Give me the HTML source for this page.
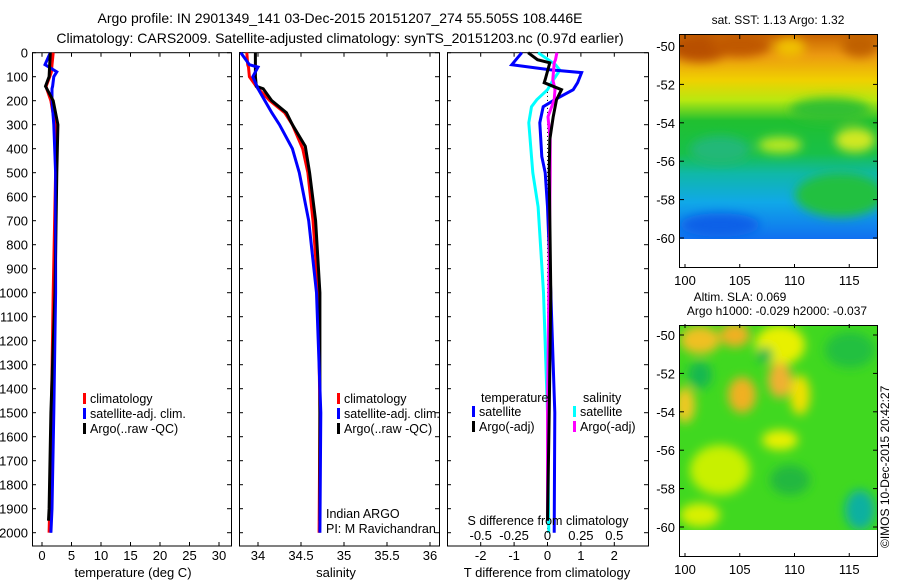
<!DOCTYPE html>
<html><head><meta charset="utf-8">
<style>
html,body{margin:0;padding:0;background:#fff;}
svg{display:block;font-family:"Liberation Sans",sans-serif;}
</style></head>
<body>
<svg id="fig" width="900" height="580" viewBox="0 0 900 580" xmlns="http://www.w3.org/2000/svg">
<defs>
 <linearGradient id="sstg" x1="0" y1="0" x2="0" y2="1">
  <stop offset="0" stop-color="#c86400"/>
  <stop offset="0.10" stop-color="#ec9a10"/>
  <stop offset="0.22" stop-color="#f0d000"/>
  <stop offset="0.32" stop-color="#b8e810"/>
  <stop offset="0.42" stop-color="#20c030"/>
  <stop offset="0.58" stop-color="#18c048"/>
  <stop offset="0.68" stop-color="#10b8a8"/>
  <stop offset="0.82" stop-color="#10a8e8"/>
  <stop offset="1" stop-color="#1070f0"/>
 </linearGradient>
 <filter id="blur4"><feGaussianBlur stdDeviation="5"/></filter>
 <clipPath id="clip1"><rect x="680" y="35" width="197" height="204"/></clipPath>
 <clipPath id="clip2"><rect x="680" y="326" width="197" height="204"/></clipPath>
</defs>
<text x="340" y="23" font-size="14" text-anchor="middle">Argo profile: IN 2901349_141 03-Dec-2015 20151207_274 55.505S 108.446E</text>
<text x="340" y="43" font-size="14" text-anchor="middle">Climatology: CARS2009. Satellite-adjusted climatology: synTS_20151203.nc (0.97d earlier)</text>
<g id="g1"></g>
<g id="g2"></g>
<g id="g3"></g>

<g>
 <text x="778" y="24" font-size="12" text-anchor="middle">sat. SST: 1.13 Argo: 1.32</text>
 <g clip-path="url(#clip1)">
  <rect x="680" y="35" width="197" height="204" fill="url(#sstg)"/>
  <g filter="url(#blur4)">
   <ellipse cx="700" cy="48" rx="30" ry="14" fill="#b85000"/>
   <ellipse cx="740" cy="45" rx="30" ry="12" fill="#c05800"/>
   <ellipse cx="790" cy="48" rx="15" ry="10" fill="#f0c000"/>
   <ellipse cx="860" cy="45" rx="18" ry="12" fill="#c06000"/>
   <ellipse cx="830" cy="110" rx="40" ry="12" fill="#30c030"/>
   <ellipse cx="720" cy="150" rx="30" ry="14" fill="#20b878"/>
   <ellipse cx="780" cy="145" rx="22" ry="8" fill="#b8e820"/>
   <ellipse cx="855" cy="140" rx="20" ry="12" fill="#d0e820"/>
   <ellipse cx="840" cy="195" rx="45" ry="22" fill="#20c040"/>
   <ellipse cx="720" cy="225" rx="40" ry="12" fill="#0860e8"/>
  </g>
 </g>
 <rect x="679.5" y="34.5" width="198" height="233" fill="none" stroke="#000"/>
 <g id="m1ax"></g>
</g>

<g>
 <text x="740" y="301" font-size="12" text-anchor="middle">Altim. SLA: 0.069</text>
 <text x="777" y="315" font-size="12" text-anchor="middle">Argo h1000: -0.029 h2000: -0.037</text>
 <g clip-path="url(#clip2)">
  <rect x="680" y="326" width="197" height="204" fill="#40d820"/>
  <g filter="url(#blur4)">
   <ellipse cx="700" cy="340" rx="20" ry="14" fill="#f0c020"/>
   <ellipse cx="735" cy="335" rx="15" ry="12" fill="#f0b020"/>
   <ellipse cx="780" cy="345" rx="25" ry="20" fill="#e8f000"/>
   <ellipse cx="742" cy="395" rx="14" ry="18" fill="#f0b020"/>
   <ellipse cx="685" cy="405" rx="10" ry="18" fill="#f0c820"/>
   <ellipse cx="780" cy="380" rx="12" ry="18" fill="#f0b030"/>
   <ellipse cx="800" cy="395" rx="10" ry="20" fill="#f0e000"/>
   <ellipse cx="700" cy="375" rx="12" ry="14" fill="#18b850"/>
   <ellipse cx="765" cy="355" rx="8" ry="8" fill="#18b850"/>
   <ellipse cx="850" cy="350" rx="25" ry="18" fill="#20c040"/>
   <ellipse cx="720" cy="470" rx="30" ry="25" fill="#c8f000"/>
   <ellipse cx="780" cy="440" rx="18" ry="10" fill="#e8f000"/>
   <ellipse cx="790" cy="480" rx="20" ry="15" fill="#20b840"/>
   <ellipse cx="860" cy="510" rx="15" ry="20" fill="#10b0a0"/>
   <ellipse cx="700" cy="515" rx="20" ry="12" fill="#d8f000"/>
  </g>
 </g>
 <rect x="679.5" y="325.5" width="198" height="231" fill="none" stroke="#000"/>
 <g id="m2ax"></g>
</g>
<text transform="translate(889,548) rotate(-90)" font-size="12">©IMOS 10-Dec-2015 20:42:27</text>
</svg>
<script>
// ---------- data ----------
const tDepths = [0,50,80,100,140,150,200,300,500,1000,1500,1900,2000];
const tClim   = [1.9,1.7,1.6,1.3,0.7,0.8,1.5,2.2,2.3,1.9,1.6,1.3,1.2];
const tSat    = [1.4,0.5,2.5,2.0,1.8,1.7,1.7,2.0,2.3,2.3,2.0,1.7,1.5];
const tArgoD  = [0,100,140,200,300,500,1000,1500,1900,1950];
const tArgo   = [1.4,1.2,0.6,1.9,2.7,2.5,2.2,1.5,1.2,1.1];

const sDepths = [0,50,60,100,150,200,250,300,400,500,700,1000,1500,2000];
const sClim   = [33.87,33.88,33.89,33.9,34.0,34.14,34.31,34.4,34.52,34.58,34.64,34.7,34.72,34.71];
const sSat    = [33.8,33.9,34.0,33.94,34.0,34.08,34.16,34.25,34.4,34.48,34.59,34.68,34.73,34.72];
const sArgoD  = [0,100,140,150,200,250,300,390,500,700,1000,1500,1950];
const sArgo   = [33.97,33.97,33.98,34.06,34.16,34.33,34.4,34.55,34.6,34.67,34.72,34.72,34.72];

const dDepths   = [0,50,71,83,125,154,196,225,292,433,500,642,1000,1500,2000];
const dTsat     = [-0.77,-1.07,0.07,1.02,0.9,0.77,0.22,-0.13,-0.23,-0.17,-0.07,0.0,0.1,0.22,0.2];
const dSsat     = [-0.07,0.06,0.09,0.08,0.03,0.0,-0.08,-0.12,-0.14,-0.12,-0.11,-0.07,-0.03,0.0,0.01];
const dArgoD    = [0,29,42,112,125,154,196,267,362,500,1000,1500,1950];
const dTargo    = [-0.58,-0.3,0.07,-0.07,-0.1,0.42,0.27,0.17,0.07,0.05,0.1,0.05,0.0];
const dSargo    = [0.07,0.06,0.05,0.04,0.045,0.056,0.05,0.004,0.02,0.02,0.01,0.0,0.0];

const depthTicks = [0,100,200,300,400,500,600,700,800,900,1000,1100,1200,1300,1400,1500,1600,1700,1800,1900,2000];
const tTicks = [0,5,10,15,20,25,30];
const sTicks = [34,34.5,35,35.5,36];
const sTickLabels = ['34','34.5','35','35.5','36'];
const dTTicks = [-2,-1,0,1,2];
const dSTicks = [-0.5,-0.25,0,0.25,0.5];
const dSTickLabels = ['-0.5','-0.25','0','0.25','0.5'];
const latTicks = [-50,-52,-54,-56,-58,-60];
const lonTicks = [100,105,110,115];

// ---------- helpers ----------
const NS='http://www.w3.org/2000/svg';
function mk(tag, parent, attrs){const e=document.createElementNS(NS,tag);for(const k in attrs)e.setAttribute(k,attrs[k]);parent.appendChild(e);return e;}
const top0=52.7, bot=546;
const yD = d => 52.7 + d*0.24;
const xT = v => 42 + v*5.9;
const xS = v => 258 + (v-34)*86;
const xDT = v => 547.5 + v*33.4;
const xDS = v => 547.5 + v*4*33.4;

function frame(g,x0,x1,name){
  const r=mk('rect',g,{x:x0+0.5,y:top0,width:x1-x0,height:bot-top0,fill:'none',stroke:'#000'});
  
  
}
function line(g,xs,ds,fx,color,name,w){
  const pts=xs.map((v,i)=>fx(v).toFixed(1)+','+yD(ds[i]).toFixed(1)).join(' ');
  const p=mk('polyline',g,{points:pts,fill:'none',stroke:color,'stroke-width':w||3,'stroke-linejoin':'miter'});
  
  
}
function depthAxis(g,x0,x1,labels){
  depthTicks.forEach(d=>{
    const y=yD(d);
    mk('line',g,{x1:x0,x2:x0+4,y1:y,y2:y,stroke:'#000'});
    mk('line',g,{x1:x1-4,x2:x1,y1:y,y2:y,stroke:'#000'});
    if(labels){const t=mk('text',g,{x:x0-4,y:y+5,'font-size':13,'text-anchor':'end'});t.textContent=d;
      
      }
  });
}
function xAxis(g,ticks,labels,fx,ly,tickTop){
  ticks.forEach((v,i)=>{
    const x=fx(v);
    mk('line',g,{x1:x,x2:x,y1:bot-4,y2:bot,stroke:'#000'});
    if(tickTop) mk('line',g,{x1:x,x2:x,y1:top0,y2:top0+4,stroke:'#000'});
    const t=mk('text',g,{x:x,y:ly,'font-size':13,'text-anchor':'middle'});t.textContent=labels[i];
    
    
  });
}
function txt(g,x,y,s,size,anchor,name){
  const t=mk('text',g,{x:x,y:y,'font-size':size,'text-anchor':anchor||'start'});t.textContent=s;
  
  
}
function legendEntry(g,x,y,color,label){
  const r=mk('rect',g,{x:x,y:y-10,width:3,height:11,fill:color});
  
  
  txt(g,x+7,y,label,12.5,'start','legend-entry');
}

// panel 1 temperature
const g1=document.getElementById('g1');
frame(g1,32,231,'temperature-plot-frame');
depthAxis(g1,32,231,true);
xAxis(g1,tTicks,tTicks.map(String),xT,560,true);
line(g1,tClim,tDepths,xT,'#f00','temperature-climatology-line');
line(g1,tSat,tDepths,xT,'#00f','temperature-satellite-line');
line(g1,tArgo,tArgoD,xT,'#000','temperature-argo-line');
line(g1,tSat.slice(7),tDepths.slice(7),xT,'#00f','temperature-satellite-line-deep',2);
txt(g1,133,577,'temperature (deg C)',13,'middle','temperature-axis-title');
legendEntry(g1,83,403,'#f00','climatology');
legendEntry(g1,83,418,'#00f','satellite-adj. clim.');
legendEntry(g1,83,433,'#000','Argo(..raw -QC)');

// panel 2 salinity
const g2=document.getElementById('g2');
frame(g2,239,439,'salinity-plot-frame');
depthAxis(g2,239,439,false);
xAxis(g2,sTicks,sTickLabels,xS,560,true);
line(g2,sClim,sDepths,xS,'#f00','salinity-climatology-line');
line(g2,sArgo,sArgoD,xS,'#000','salinity-argo-line');
line(g2,sSat,sDepths,xS,'#00f','salinity-satellite-line');
txt(g2,336,577,'salinity',13,'middle','salinity-axis-title');
legendEntry(g2,337,403,'#f00','climatology');
legendEntry(g2,337,418,'#00f','satellite-adj. clim.');
legendEntry(g2,337,433,'#000','Argo(..raw -QC)');
txt(g2,326,518,'Indian ARGO',12.5,'start','float-program-label');
txt(g2,326,533,'PI: M Ravichandran',12.5,'start','pi-label');

// panel 3 differences
const g3=document.getElementById('g3');
frame(g3,447,648,'difference-plot-frame');
depthAxis(g3,447,648,false);
xAxis(g3,dTTicks,dTTicks.map(String),xDT,560,false);
dSTicks.forEach((v,i)=>{const x=xDS(v);mk('line',g3,{x1:x,x2:x,y1:top0,y2:top0+4,stroke:'#000'});});
const z=mk('line',g3,{x1:xDT(0),x2:xDT(0),y1:yD(130),y2:yD(2000),stroke:'#000','stroke-dasharray':'1,3'});


line(g3,dSsat,dDepths,xDS,'#0ff','salinity-satellite-diff-line');
line(g3,dTsat,dDepths,xDT,'#00f','temperature-satellite-diff-line');
line(g3,dSargo,dArgoD,xDS,'#f0f','salinity-argo-diff-line');
line(g3,dTargo,dArgoD,xDT,'#000','temperature-argo-diff-line');
txt(g3,548,525,'S difference from climatology',12.5,'middle','s-diff-axis-title');
dSTicks.forEach((v,i)=>txt(g3,xDS(v),540,dSTickLabels[i],13,'middle','s-tick-label'));
txt(g3,547,577,'T difference from climatology',13,'middle','t-diff-axis-title');
txt(g3,481,402,'temperature',12.5,'start','legend-temperature-header');
txt(g3,583,402,'salinity',12.5,'start','legend-salinity-header');
legendEntry(g3,472,416,'#00f','satellite');
legendEntry(g3,472,431,'#000','Argo(-adj)');
legendEntry(g3,573,416,'#0ff','satellite');
legendEntry(g3,573,431,'#f0f','Argo(-adj)');

// map axes
function mapAxes(id,off,bottom){
  const g=document.getElementById(id);
  const yL=lat=>46+(-50-lat)*19.2+off;
  const xL=lon=>685+(lon-100)*10.95;
  latTicks.forEach(l=>{const y=yL(l);
    mk('line',g,{x1:680,x2:684,y1:y,y2:y,stroke:'#000'});
    mk('line',g,{x1:873,x2:877,y1:y,y2:y,stroke:'#000'});
    txt(g,675,y+5,String(l),13,'end','lat-tick-label');});
  lonTicks.forEach(l=>{const x=xL(l);
    mk('line',g,{x1:x,x2:x,y1:bottom-4,y2:bottom,stroke:'#000'});
    mk('line',g,{x1:x,x2:x,y1:35+off,y2:39+off,stroke:'#000'});
    txt(g,x,bottom+17,String(l),13,'middle','lon-tick-label');});
}
mapAxes('m1ax',0,268);
mapAxes('m2ax',289,557);
</script>
</body></html>
